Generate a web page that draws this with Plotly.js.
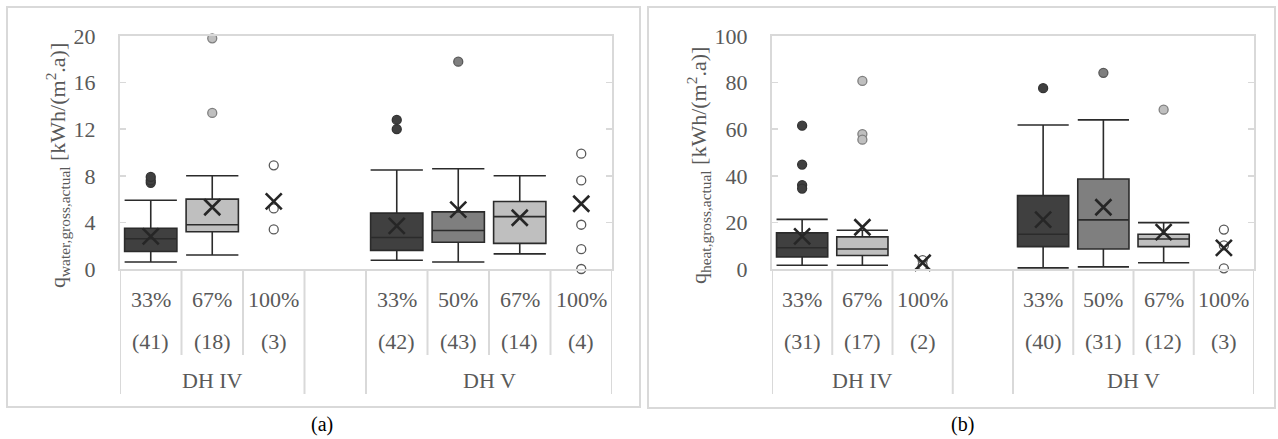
<!DOCTYPE html>
<html>
<head>
<meta charset="utf-8">
<script src="https://cdn.plot.ly/plotly-3.0.1.min.js"></script>
<style>html,body{margin:0;padding:0;background:#fff;}#chart{width:1278px;height:439px;}</style>
</head>
<body>
<div id="chart"></div>
<script>
// ---------- data ----------
const categories = ['33%', '67%', '100%', '', '33%', '50%', '67%', '100%'];
const groups = ['DH IV', 'DH V'];
const groupCenters = [1, 5.5];
const countsWater = ['(41)', '(18)', '(3)', '', '(42)', '(43)', '(14)', '(4)'];
const countsHeat = ['(31)', '(17)', '(2)', '', '(40)', '(31)', '(12)', '(3)'];

// water panel (a)
const waterQ1 = [1.5, 3.2, null, null, 1.6, 2.3, 2.2, null];
const waterMedian = [2.6, 3.8, null, null, 2.7, 3.3, 4.5, null];
const waterQ3 = [3.5, 6.0, null, null, 4.8, 4.9, 5.8, null];
const waterLower = [0.6, 1.2, null, null, 0.75, 0.6, 1.3, null];
const waterUpper = [5.9, 8.0, null, null, 8.5, 8.6, 8.0, null];
const waterMean = [2.8, 5.3, 5.8, null, 3.7, 5.1, 4.4, 5.6];
const waterPoints = [[7.4, 7.6, 7.9], [13.4, 19.8], [8.9, 5.2, 3.4], [], [12.0, 12.8], [17.8], [], [9.9, 7.6, 3.8, 1.7, 0.0]];

// heat panel (b)
const heatQ1 = [5.2, 5.8, null, null, 9.6, 8.6, 9.6, null];
const heatMedian = [9.1, 8.6, null, null, 14.9, 21.1, 12.9, null];
const heatQ3 = [15.5, 13.8, null, null, 31.5, 38.6, 14.9, null];
const heatLower = [1.6, 1.6, null, null, 0.5, 0.9, 2.7, null];
const heatUpper = [21.3, 16.6, null, null, 61.8, 64.0, 19.9, null];
const heatMean = [14.0, 17.9, 2.7, null, 21.2, 26.5, 15.8, 9.1];
const heatPoints = [[61.5, 44.8, 36.0, 34.5], [80.7, 57.9, 55.5], [3.8, 1.5], [], [77.6], [84.2], [68.4], [16.9, 10.1, 0.3]];

// ---------- styles ----------
const fills = ['#404040', '#bfbfbf', '#ffffff', null, '#404040', '#7f7f7f', '#bfbfbf', '#ffffff'];
const ptLines = ['#333333', '#7f7f7f', '#595959', null, '#333333', '#595959', '#7f7f7f', '#595959'];
const W = 1278, H = 439;
const TXT = '#595959', GRID = '#d9d9d9';
const FONT = '"Liberation Serif", "DejaVu Serif", serif';
const FS = 22;
const py = v => 1 - v / H;
const px = v => v / W;

const traces = [];
function addPanel(xa, ya, q1, med, q3, lo, up, mean, pts) {
  for (let i = 0; i < categories.length; i++) {
    if (q1[i] !== null) {
      traces.push({
        type: 'box', xaxis: xa, yaxis: ya,
        x: [i], q1: [q1[i]], median: [med[i]], q3: [q3[i]],
        lowerfence: [lo[i]], upperfence: [up[i]],
        boxpoints: false, width: 0.85, whiskerwidth: 1,
        fillcolor: fills[i], line: {color: '#2b2b2b', width: 1.6},
        hoverinfo: 'skip'
      });
    }
    if (pts[i].length) {
      traces.push({
        type: 'scatter', mode: 'markers', xaxis: xa, yaxis: ya,
        x: pts[i].map(() => i), y: pts[i], cliponaxis: false,
        marker: {size: 9, color: fills[i], line: {color: ptLines[i], width: 1.3}},
        hoverinfo: 'skip'
      });
    }
    if (mean[i] !== null) {
      traces.push({
        type: 'scatter', mode: 'markers', xaxis: xa, yaxis: ya,
        x: [i], y: [mean[i]], cliponaxis: false,
        marker: {symbol: 'x-thin-open', size: 16, color: '#262626', line: {color: '#262626', width: 2.6}},
        hoverinfo: 'skip'
      });
    }
  }
}
addPanel('x', 'y', waterQ1, waterMedian, waterQ3, waterLower, waterUpper, waterMean, waterPoints);
addPanel('x2', 'y2', heatQ1, heatMedian, heatQ3, heatLower, heatUpper, heatMean, heatPoints);

const annotations = [];
const shapes = [];
const yLblPct = py(299), yLblCnt = py(341), yLblGrp = py(380);
const yAxisLine = py(269), yShort = py(355), yFull = py(394);
const fullB = [-0.5, 2.5, 3.5, 7.5], shortB = [0.5, 1.5, 4.5, 5.5, 6.5];

function addLabels(xref, counts) {
  categories.forEach((c, i) => {
    if (!c) return;
    annotations.push({xref: xref, yref: 'paper', x: i, y: yLblPct, text: c, showarrow: false,
      font: {family: FONT, size: FS, color: TXT}, xanchor: 'center', yanchor: 'middle'});
    annotations.push({xref: xref, yref: 'paper', x: i, y: yLblCnt, text: counts[i], showarrow: false,
      font: {family: FONT, size: FS, color: TXT}, xanchor: 'center', yanchor: 'middle'});
  });
  groups.forEach((g, k) => {
    annotations.push({xref: xref, yref: 'paper', x: groupCenters[k], y: yLblGrp, text: g, showarrow: false,
      font: {family: FONT, size: FS, color: TXT}, xanchor: 'center', yanchor: 'middle'});
  });
  fullB.forEach(b => shapes.push({type: 'line', xref: xref, yref: 'paper', x0: b, x1: b, y0: yAxisLine, y1: yFull,
    line: {color: GRID, width: 2}}));
  shortB.forEach(b => shapes.push({type: 'line', xref: xref, yref: 'paper', x0: b, x1: b, y0: yAxisLine, y1: yShort,
    line: {color: GRID, width: 2}}));
}
addLabels('x', countsWater);
addLabels('x2', countsHeat);

// axis titles (rotated)
annotations.push({xref: 'paper', yref: 'paper', x: px(57), y: py(166), textangle: -90, showarrow: false,
  text: 'q<sub>water,gross,actual</sub> [kWh/(m<sup>2</sup>.a)]', font: {family: FONT, size: 22, color: TXT},
  xanchor: 'center', yanchor: 'middle'});
annotations.push({xref: 'paper', yref: 'paper', x: px(698), y: py(166), textangle: -90, showarrow: false,
  text: 'q<sub>heat,gross,actual</sub> [kWh/(m<sup>2</sup>.a)]', font: {family: FONT, size: 22, color: TXT},
  xanchor: 'center', yanchor: 'middle'});
// captions
annotations.push({xref: 'paper', yref: 'paper', x: px(322), y: py(424), text: '(a)', showarrow: false,
  font: {family: FONT, size: 20, color: '#000'}, xanchor: 'center', yanchor: 'middle'});
annotations.push({xref: 'paper', yref: 'paper', x: px(962), y: py(424), text: '(b)', showarrow: false,
  font: {family: FONT, size: 20, color: '#000'}, xanchor: 'center', yanchor: 'middle'});

// panel frames
shapes.push({type: 'rect', xref: 'paper', yref: 'paper', x0: px(7), x1: px(640), y0: py(7), y1: py(407),
  line: {color: GRID, width: 2}, layer: 'below'});
shapes.push({type: 'rect', xref: 'paper', yref: 'paper', x0: px(648), x1: px(1275), y0: py(7), y1: py(408),
  line: {color: GRID, width: 2}, layer: 'below'});

const xBase = {range: [-0.5, 7.5], showline: true, linecolor: GRID, linewidth: 2, mirror: true,
  showticklabels: false, ticks: '', showgrid: false, zeroline: false, fixedrange: true};
const yBase = {showline: true, linecolor: GRID, linewidth: 2, mirror: 'ticks', ticks: 'inside', ticklen: 6,
  tickcolor: GRID, tickwidth: 1.5, showgrid: false, zeroline: false, fixedrange: true, tick0: 0,
  ticklabelstandoff: 18, tickfont: {family: FONT, size: FS, color: TXT}};

const layout = {
  width: W, height: H, margin: {l: 0, r: 0, t: 0, b: 0},
  font: {family: FONT, color: TXT},
  paper_bgcolor: '#fff', plot_bgcolor: '#fff', showlegend: false, boxmode: 'overlay',
  xaxis: Object.assign({}, xBase, {domain: [px(120), px(612)], anchor: 'y'}),
  yaxis: Object.assign({}, yBase, {domain: [py(269), py(36)], range: [0, 20], dtick: 4, anchor: 'x'}),
  xaxis2: Object.assign({}, xBase, {domain: [px(772), px(1254)], anchor: 'y2'}),
  yaxis2: Object.assign({}, yBase, {domain: [py(269), py(36)], range: [0, 100], dtick: 20, anchor: 'x2'}),
  annotations: annotations, shapes: shapes
};

Plotly.newPlot('chart', traces, layout, {displayModeBar: false, staticPlot: true});
</script>
</body>
</html>
